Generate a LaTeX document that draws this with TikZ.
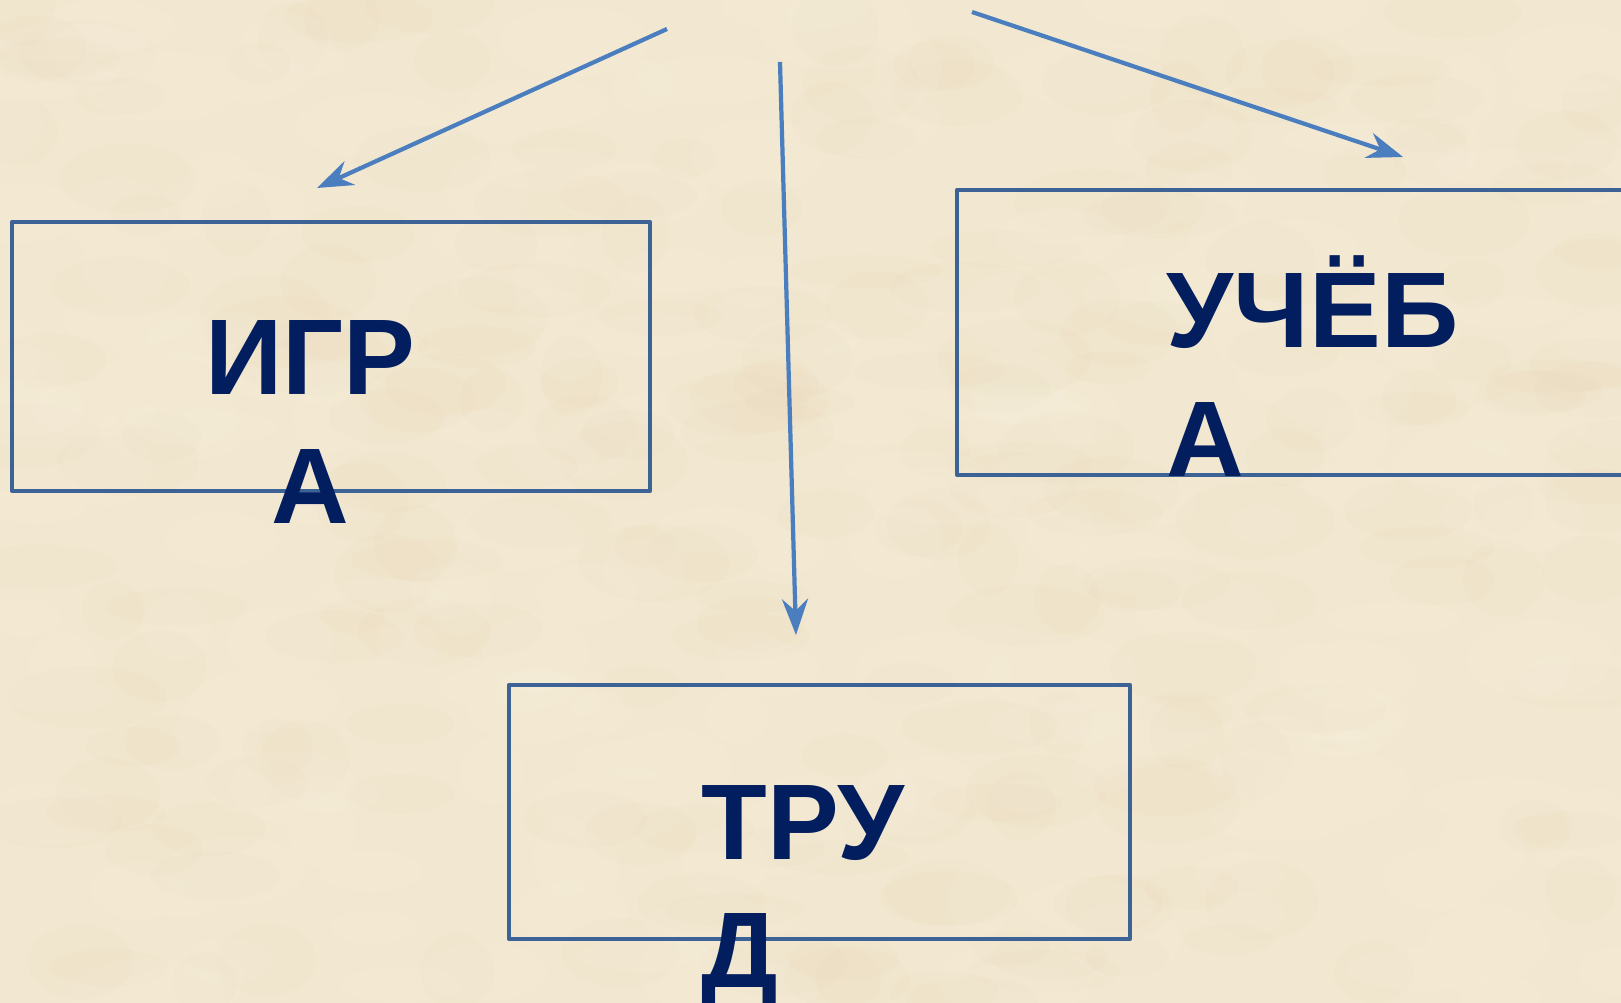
\documentclass[tikz,border=0pt]{standalone}
\usepackage{fontspec}
\setmainfont{Liberation Sans}[BoldFont={Liberation Sans Bold}]
\usetikzlibrary{arrows.meta}
\definecolor{papier}{RGB}{242,231,208}
\definecolor{papier-dunkel}{RGB}{226,209,176}
\definecolor{papier-hell}{RGB}{251,243,226}
\definecolor{pfeilblau}{RGB}{74,126,190}
\definecolor{rahmen}{RGB}{61,99,150}
\definecolor{schrift}{RGB}{2,30,94}

\begin{document}
\begin{tikzpicture}[
    feld/.style={draw=rahmen, line width=1.2pt, line join=round, rectangle, inner sep=0pt},
    wort/.style={schrift, font=\fontsize{30.6pt}{36.7pt}\selectfont\bfseries, inner sep=0pt},
    pfeil/.style={pfeilblau, line width=1.2pt, -{Stealth[length=0.36cm, width=0.26cm, inset=0.12cm]}}
]

    % Blatt
    \useasboundingbox (0,0) rectangle (16.21,-10.03);
    \clip (0,0) rectangle (16.21,-10.03);
    \fill[papier] (0,0) rectangle (16.21,-10.03);
    \pgfmathsetseed{42}
    \foreach \i in {1,...,220} {
        \fill[papier-dunkel, opacity=0.07] ({rnd*16.21},{-rnd*10.03}) ellipse ({0.3+0.5*rnd} and {0.15+0.25*rnd});
        \fill[papier-hell, opacity=0.12] ({rnd*16.21},{-rnd*10.03}) ellipse ({0.3+0.5*rnd} and {0.15+0.25*rnd});
    }

    % Felder
    \node[feld, minimum width=6.38cm, minimum height=2.69cm] (igra) at (3.31,-3.565) {};
    \node[feld, minimum width=7.00cm, minimum height=2.85cm] (ucheba) at (13.07,-3.325) {};
    \node[feld, minimum width=6.21cm, minimum height=2.54cm] (trud) at (8.195,-8.12) {};

    % Beschriftung (base = Grundlinie der letzten Zeile)
    \node[wort, align=center, anchor=base] (igra-text) at (3.10,-5.24) {ИГР\\А};
    \node[wort, align=left, anchor=base west] (ucheba-text) at (11.66,-4.77) {УЧЁБ\\А};
    \node[wort, align=left, anchor=base west] (trud-text) at (7.01,-9.88) {ТРУ\\Д};

    % Pfeile
    \coordinate (start-links) at (6.67,-0.29);
    \coordinate (start-mitte) at (7.80,-0.62);
    \coordinate (start-rechts) at (9.72,-0.12);
    \coordinate (ziel-igra) at (3.17,-1.88);
    \coordinate (ziel-trud) at (7.96,-6.35);
    \coordinate (ziel-ucheba) at (14.03,-1.57);
    \draw[pfeil] (start-links) -- (ziel-igra);
    \draw[pfeil] (start-mitte) -- (ziel-trud);
    \draw[pfeil] (start-rechts) -- (ziel-ucheba);

\end{tikzpicture}
\end{document}
